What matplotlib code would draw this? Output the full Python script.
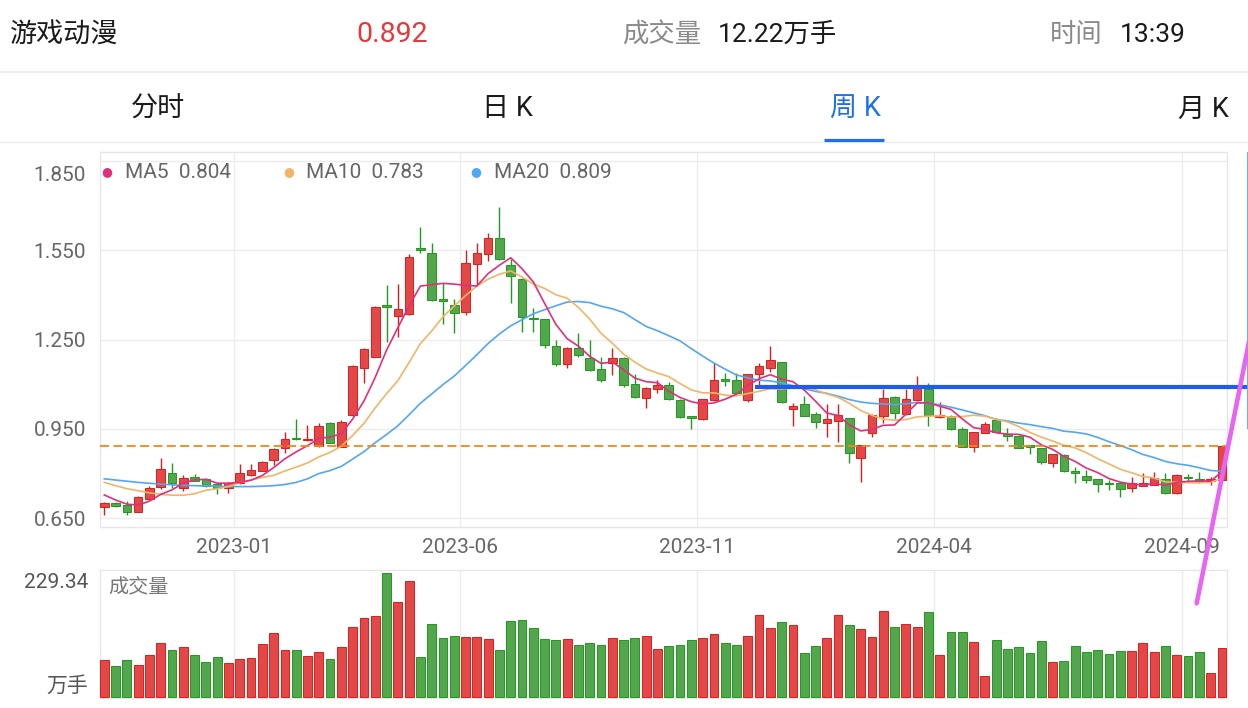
import matplotlib
matplotlib.use("Agg")
import matplotlib.pyplot as plt
import matplotlib.transforms as mtransforms
from matplotlib.lines import Line2D
import numpy as np
import pandas as pd

plt.rcParams['font.family'] = ['Roboto', 'Noto Sans CJK SC', 'DejaVu Sans']

# ── Screen data ──
stock_name = "游戏动漫"
last_price = "0.892"
volume_text = "12.22万手"
time_text = "13:39"
tab_labels = ["分时", "日 K", "周 K", "月 K"]
active_tab = 2

# weekly candles, oldest first
opens = [0.690, 0.703, 0.694, 0.673, 0.717, 0.757, 0.801, 0.751, 0.790, 0.782,
         0.765, 0.751, 0.768, 0.796, 0.810, 0.846, 0.885, 0.921, 0.913, 0.893,
         0.971, 0.891, 0.997, 1.153, 1.192, 1.364, 1.330, 1.334, 1.558, 1.541,
         1.385, 1.366, 1.343, 1.502, 1.535, 1.591, 1.500, 1.453, 1.322, 1.318,
         1.229, 1.167, 1.223, 1.189, 1.150, 1.170, 1.189, 1.100, 1.053, 1.084,
         1.096, 1.047, 0.993, 0.984, 1.047, 1.117, 1.114, 1.047, 1.134, 1.153,
         1.174, 1.016, 1.033, 1.000, 0.969, 0.978, 0.986, 0.852, 0.938, 0.994,
         1.056, 1.000, 1.047, 1.083, 0.989, 0.994, 0.949, 0.891, 0.938, 0.980,
         0.932, 0.928, 0.896, 0.885, 0.837, 0.863, 0.809, 0.792, 0.782, 0.768,
         0.768, 0.751, 0.760, 0.763, 0.781, 0.734, 0.790, 0.782, 0.776, 0.779]
highs = [0.705, 0.706, 0.707, 0.727, 0.759, 0.852, 0.835, 0.796, 0.798, 0.786,
         0.766, 0.773, 0.832, 0.832, 0.842, 0.886, 0.941, 0.983, 0.963, 0.969,
         0.973, 0.980, 1.165, 1.222, 1.362, 1.433, 1.435, 1.536, 1.626, 1.574,
         1.438, 1.386, 1.550, 1.572, 1.606, 1.693, 1.519, 1.455, 1.357, 1.320,
         1.248, 1.225, 1.273, 1.248, 1.192, 1.220, 1.191, 1.134, 1.090, 1.113,
         1.109, 1.049, 0.995, 1.052, 1.170, 1.137, 1.139, 1.136, 1.172, 1.228,
         1.176, 1.036, 1.062, 1.008, 1.033, 1.033, 0.988, 0.898, 0.999, 1.084,
         1.062, 1.083, 1.128, 1.105, 1.042, 0.996, 0.958, 0.941, 0.974, 0.988,
         0.955, 0.930, 0.898, 0.887, 0.867, 0.865, 0.824, 0.813, 0.784, 0.779,
         0.770, 0.790, 0.801, 0.805, 0.801, 0.798, 0.799, 0.805, 0.788, 0.894]
lows = [0.662, 0.690, 0.662, 0.672, 0.714, 0.748, 0.752, 0.743, 0.775, 0.757,
        0.732, 0.734, 0.764, 0.794, 0.808, 0.829, 0.871, 0.913, 0.910, 0.890,
        0.902, 0.889, 0.995, 1.105, 1.190, 1.243, 1.259, 1.332, 1.539, 1.380,
        1.301, 1.271, 1.332, 1.433, 1.513, 1.518, 1.373, 1.276, 1.276, 1.223,
        1.161, 1.153, 1.190, 1.146, 1.109, 1.131, 1.090, 1.054, 1.019, 1.070,
        1.047, 0.987, 0.949, 0.980, 1.045, 1.095, 1.070, 1.042, 1.097, 1.142,
        1.037, 0.960, 0.992, 0.952, 0.924, 0.907, 0.837, 0.773, 0.924, 0.971,
        0.983, 0.998, 1.045, 0.960, 0.987, 0.947, 0.889, 0.874, 0.936, 0.939,
        0.911, 0.885, 0.865, 0.832, 0.824, 0.807, 0.768, 0.770, 0.740, 0.746,
        0.721, 0.740, 0.758, 0.761, 0.731, 0.732, 0.776, 0.770, 0.762, 0.777]
closes = [0.703, 0.692, 0.673, 0.723, 0.751, 0.815, 0.768, 0.787, 0.777, 0.759,
          0.751, 0.768, 0.801, 0.813, 0.838, 0.883, 0.916, 0.917, 0.917, 0.960,
          0.904, 0.974, 1.162, 1.218, 1.358, 1.358, 1.351, 1.528, 1.550, 1.382,
          1.380, 1.338, 1.507, 1.539, 1.591, 1.520, 1.463, 1.324, 1.318, 1.232,
          1.167, 1.223, 1.198, 1.148, 1.114, 1.189, 1.096, 1.056, 1.088, 1.096,
          1.049, 0.989, 0.986, 1.049, 1.114, 1.112, 1.072, 1.134, 1.161, 1.181,
          1.039, 1.028, 0.994, 0.974, 0.983, 0.997, 0.869, 0.896, 0.997, 1.053,
          1.003, 1.049, 1.086, 0.997, 0.997, 0.949, 0.891, 0.939, 0.967, 0.941,
          0.926, 0.887, 0.891, 0.840, 0.865, 0.809, 0.801, 0.779, 0.765, 0.765,
          0.749, 0.768, 0.768, 0.787, 0.737, 0.796, 0.785, 0.777, 0.782, 0.892]
# volume, 万手
volumes = [67.9, 58.0, 67.9, 59.9, 77.1, 99.9, 86.9, 91.9, 77.1, 64.2,
           74.0, 63.6, 70.3, 72.8, 97.4, 117.8, 87.6, 87.6, 75.3, 83.9,
           70.3, 91.9, 129.5, 145.6, 149.8, 229.34, 175.1, 214.5, 74.0, 133.9,
           108.0, 111.7, 111.1, 111.1, 106.2, 85.8, 139.4, 141.9, 127.1, 106.2,
           104.3, 107.3, 95.1, 99.9, 96.2, 109.1, 105.4, 108.0, 112.8, 88.2,
           94.3, 96.2, 104.3, 109.1, 116.0, 99.3, 96.2, 112.8, 151.7, 126.5,
           138.2, 132.1, 80.3, 93.2, 108.0, 150.5, 132.6, 125.2, 109.9, 158.5,
           129.5, 135.0, 129.5, 156.1, 78.4, 119.1, 120.2, 101.2, 39.6, 104.3,
           88.2, 91.4, 80.3, 103.0, 64.7, 66.0, 93.2, 82.1, 86.4, 79.5,
           84.5, 84.5, 99.9, 83.2, 94.3, 78.4, 75.3, 82.7, 44.4, 90.1]

# moving-average values shown before a full window exists
ma5_head = [0.729, 0.712, 0.698, 0.695]
ma10_head = [0.771, 0.760, 0.750, 0.743, 0.736, 0.731, 0.728, 0.728, 0.733]
ma20_head = [0.783, 0.779, 0.775, 0.771, 0.768, 0.765, 0.763, 0.761, 0.760, 0.759,
             0.758, 0.757, 0.757, 0.757, 0.758, 0.760, 0.764, 0.771, 0.783]
legend_values = {"MA5": "0.804", "MA10": "0.783", "MA20": "0.809"}

price_ticks = [0.650, 0.950, 1.250, 1.550, 1.850]
date_labels = ["2023-01", "2023-06", "2023-11", "2024-04", "2024-09"]
date_first_candle = [12, 32, 53, 74, 96]

drawn_line_price = 1.092
drawn_line_start = 57.6

# ── Style ──
RED, RED_EDGE = "#e24848", "#e01b1b"
GREEN, GREEN_EDGE = "#52a64c", "#1f9a1f"
MA_COLORS = {"MA5": "#e0307c", "MA10": "#f2b467", "MA20": "#52a6f6"}
GRID = "#ececec"
LABEL = "#666666"

W, H = 1248, 708
fig = plt.figure(figsize=(W / 100, H / 100), dpi=100, facecolor="white")


def fx(x):
    return x / W


def fy(y):
    return 1 - y / H


# ── Header ──
fig.text(fx(10), fy(35), stock_name, fontsize=19.5, color="#1a1a1a", va="center")
fig.text(fx(392), fy(35), last_price, fontsize=20.5, color="#e5383b", ha="center", va="center")
fig.text(fx(622), fy(35), "成交量", fontsize=19, color="#8a8a8a", va="center")
fig.text(fx(718), fy(35), volume_text, fontsize=19, color="#1a1a1a", va="center")
fig.text(fx(1050), fy(35), "时间", fontsize=19, color="#8a8a8a", va="center")
fig.text(fx(1120), fy(35), time_text, fontsize=19, color="#1a1a1a", va="center")
fig.add_artist(Line2D([0, 1], [fy(72)] * 2, color="#f0f0f0", lw=1.6, transform=fig.transFigure))

tab_x = [158, 507, 855, 1203]
for k, (lab, x) in enumerate(zip(tab_labels, tab_x)):
    fig.text(fx(x), fy(109), lab, fontsize=19.5, ha="center", va="center",
             color="#1f6fee" if k == active_tab else "#1a1a1a")
fig.add_artist(Line2D([0, 1], [fy(142)] * 2, color="#eeeeee", lw=1, transform=fig.transFigure))
fig.add_artist(Line2D([fx(824), fx(884)], [fy(140)] * 2, color="#1f6fee", lw=2.3,
                      transform=fig.transFigure, solid_capstyle="butt"))

# ── Data prep ──
o = np.array(opens)
h = np.array(highs)
l = np.array(lows)
c = np.array(closes)
v = np.array(volumes)
n = len(c)
idx = np.arange(n)
up = c >= o
fill = np.where(up, RED, GREEN)
edge = np.where(up, RED_EDGE, GREEN_EDGE)

close_s = pd.Series(c)
ma = {}
for name, win, head in [("MA5", 5, ma5_head), ("MA10", 10, ma10_head), ("MA20", 20, ma20_head)]:
    m = close_s.rolling(win).mean().to_numpy()
    m[:win - 1] = head
    ma[name] = m

xlim = (-0.38, 99.45)

# ── Price panel ──
ax = fig.add_axes([fx(100), fy(527), fx(1227) - fx(100), fy(152) - fy(527)])
ax.set_xlim(*xlim)
ax.set_ylim(0.6215, 1.8785)
for s in ax.spines.values():
    s.set_color("#e6e6e6")
    s.set_linewidth(1)
ax.set_yticks(price_ticks)
ax.set_yticklabels([f"{p:.3f}" for p in price_ticks])
ax.set_xticks([i - 0.5 for i in date_first_candle])
ax.set_xticklabels(date_labels)
ax.tick_params(length=0, labelsize=15, labelcolor=LABEL)
ax.tick_params(axis="y", pad=10)
ax.tick_params(axis="x", pad=8)
ax.grid(True, color=GRID, lw=1)
ax.set_axisbelow(True)
# top label sits just under its grid line
top_lab = ax.get_yticklabels()[-1]
top_lab.set_transform(top_lab.get_transform() +
                      mtransforms.ScaledTranslation(0, -0.13, fig.dpi_scale_trans))

ax.vlines(idx, l, h, colors=edge, lw=1.0, zorder=2)
body_h = np.maximum(np.abs(c - o), 0.004)
ax.bar(idx, body_h, bottom=np.minimum(o, c), width=0.76, color=fill,
       edgecolor=edge, lw=0.7, zorder=3)

for name in ["MA20", "MA10", "MA5"]:
    ax.plot(idx, ma[name], color=MA_COLORS[name], lw=1.2, zorder=4)

ax.axhline(float(last_price), color="#f08a12", lw=1.3, ls=(0, (5, 2.4)), zorder=4)
ax.plot([drawn_line_start, 101.4], [drawn_line_price] * 2, color="#1c5cf0", lw=3,
        solid_capstyle="butt", clip_on=False, zorder=6)

# legend
leg_x = [(107, 125), (289, 306), (476, 494)]
for (dx, tx), name in zip(leg_x, ["MA5", "MA10", "MA20"]):
    fig.text(fx(dx), fy(172), "●", fontsize=9, color=MA_COLORS[name], ha="center", va="center",
             family="DejaVu Sans")
    fig.text(fx(tx), fy(173), f"{name}  {legend_values[name]}", fontsize=15,
             color=LABEL, va="center")

# ── Volume panel ──
axv = fig.add_axes([fx(100), fy(698), fx(1227) - fx(100), fy(570) - fy(698)])
axv.set_xlim(*xlim)
axv.set_ylim(-1.85, 234.3)
for s in axv.spines.values():
    s.set_color("#e6e6e6")
    s.set_linewidth(1)
axv.set_xticks([i - 0.5 for i in date_first_candle])
axv.set_xticklabels([])
axv.set_yticks([])
axv.tick_params(length=0)
axv.grid(True, axis="x", color=GRID, lw=1)
axv.set_axisbelow(True)
axv.bar(idx, v, width=0.78, color=fill, edgecolor=edge, lw=0.7, zorder=3)

fig.text(fx(88), fy(582), f"{v.max():.2f}", fontsize=15, color="#555555", ha="right", va="center")
fig.text(fx(88), fy(686), "万手", fontsize=15, color="#555555", ha="right", va="center")
fig.text(fx(108), fy(587), "成交量", fontsize=14.5, color="#777777", va="center")

# ── Hand-drawn overlays on the screenshot ──
fig.add_artist(Line2D([fx(1246.5)] * 2, [fy(152), fy(428)], color="#7aa7f0", lw=0.8,
                      transform=fig.transFigure))
fig.add_artist(Line2D([fx(1246.5), fx(1249)], [fy(428)] * 2, color="#7aa7f0", lw=0.8,
                      transform=fig.transFigure))
fig.add_artist(Line2D([fx(1196.7), fx(1250)], [fy(603.3), fy(337)], color="#e864f2", lw=3.3,
                      transform=fig.transFigure, solid_capstyle="round"))

fig.savefig("out.png", dpi=100, facecolor="white")
